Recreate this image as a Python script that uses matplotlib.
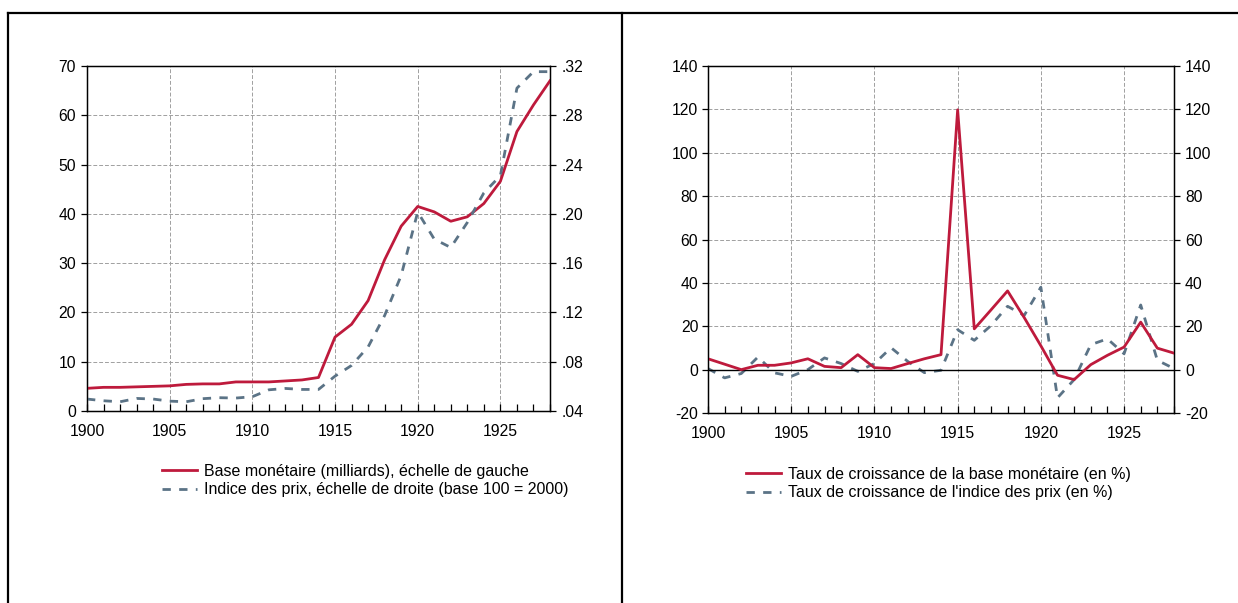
import matplotlib.pyplot as plt
from matplotlib.lines import Line2D
from matplotlib.ticker import FuncFormatter, MultipleLocator

plt.rcParams['font.family'] = ['Liberation Sans', 'DejaVu Sans']
plt.rcParams['font.size'] = 11.3
plt.rcParams['axes.unicode_minus'] = False

years = list(range(1900, 1929))

# base monetaire (milliards), echelle de gauche
base = [4.6, 4.8, 4.8, 4.9, 5.0, 5.1, 5.4, 5.5, 5.5, 5.9, 5.9, 5.9, 6.1, 6.3, 6.8,
        15.0, 17.6, 22.4, 30.7, 37.5, 41.5, 40.4, 38.5, 39.4, 42.1, 46.6, 56.7, 62.1, 67.0]
# indice des prix, echelle de droite
prix = [0.0497, 0.0483, 0.0475, 0.0502, 0.0497, 0.0480, 0.0475, 0.0500, 0.0508, 0.0505,
        0.0516, 0.0572, 0.0583, 0.0575, 0.0575, 0.0683, 0.0770, 0.0920, 0.1175, 0.1500,
        0.2015, 0.1795, 0.1727, 0.1930, 0.2170, 0.2310, 0.3020, 0.3154, 0.3154]

# taux de croissance (en %)
g_base = [5.0, 2.5, 0.0, 2.0, 2.0, 3.1, 5.0, 1.5, 0.9, 6.9, 0.9, 0.5, 2.8, 5.0, 6.9,
          119.8, 18.8, 27.5, 36.3, 24.0, 11.0, -2.6, -4.6, 2.3, 6.6, 10.4, 21.9, 9.9, 7.6]
g_prix = [0.5, -3.8, -1.8, 5.8, -1.5, -3.1, 0.0, 5.4, 2.8, -0.8, 2.8, 10.1, 3.8, -1.4, -0.3,
          18.4, 13.5, 20.3, 29.2, 25.0, 38.0, -13.0, -4.6, 11.5, 14.2, 7.3, 29.8, 4.3, 0.5]

red = '#BE1A3C'
blue = '#5B7386'
grid_col = '#A0A0A0'

fig = plt.figure(figsize=(12.38, 6.03), dpi=100)

# cadre
fig.add_artist(Line2D([8/1238, 1], [1-13/603, 1-13/603], color='black', lw=1.6))
fig.add_artist(Line2D([8/1238, 8/1238], [0, 1-13/603], color='black', lw=1.6))
fig.add_artist(Line2D([622/1238, 622/1238], [0, 1-13/603], color='black', lw=1.6))


def style(ax):
    ax.set_xlim(1900, 1928)
    ax.xaxis.set_major_locator(MultipleLocator(5))
    ax.xaxis.set_minor_locator(MultipleLocator(1))
    ax.tick_params(axis='x', which='both', direction='in', length=5, width=0.9, pad=9)
    ax.tick_params(axis='y', which='both', direction='out', length=4, width=0.9, pad=4)
    ax.grid(True, which='major', color=grid_col, ls=(0, (4, 2)), lw=0.7)
    for s in ax.spines.values():
        s.set_linewidth(1.0)


leg_kw = dict(loc='upper left', frameon=False, handlelength=2.2, handletextpad=0.4,
              labelspacing=0.2, borderpad=0, fontsize=11.5)

# graphique de gauche
ax1 = fig.add_axes([87/1238, 1-411/603, (550-87)/1238, (411-66)/603])
ax1.plot(years, base, color=red, lw=2, label='Base monétaire (milliards), échelle de gauche', zorder=3)
ax1.set_ylim(0, 70)
ax1.yaxis.set_major_locator(MultipleLocator(10))
style(ax1)
ax1b = ax1.twinx()
ax1b.plot(years, prix, color=blue, lw=2, ls=(0, (3, 3)), label='Indice des prix, échelle de droite (base 100 = 2000)')
ax1b.set_ylim(0.04, 0.32)
ax1b.yaxis.set_major_locator(MultipleLocator(0.04))
ax1b.yaxis.set_major_formatter(FuncFormatter(lambda v, p: ('%.2f' % v).lstrip('0')))
ax1b.tick_params(axis='y', direction='out', length=4, width=0.9, pad=4.5)
h = ax1.get_lines() + ax1b.get_lines()
fig.legend(h, [l.get_label() for l in h], bbox_to_anchor=(154/1238, 1-456/603), **leg_kw)

# graphique de droite
ax2 = fig.add_axes([708/1238, 1-413/603, (1174-708)/1238, (413-66)/603])
ax2.plot(years, g_base, color=red, lw=2, label='Taux de croissance de la base monétaire (en %)', zorder=3)
ax2.plot(years, g_prix, color=blue, lw=2, ls=(0, (3, 3)), label="Taux de croissance de l'indice des prix (en %)")
ax2.set_ylim(-20, 140)
ax2.yaxis.set_major_locator(MultipleLocator(20))
style(ax2)
ax2.tick_params(axis='y', pad=3)
ax2.axhline(0, color='black', lw=1.0, zorder=2)
ax2b = ax2.twinx()
ax2b.set_ylim(-20, 140)
ax2b.yaxis.set_major_locator(MultipleLocator(20))
ax2b.tick_params(axis='y', direction='out', length=4, width=0.9, pad=4)
fig.legend(ax2.get_lines()[:2], [l.get_label() for l in ax2.get_lines()[:2]],
           bbox_to_anchor=(738/1238, 1-459/603), **leg_kw)

fig.savefig('out.png', dpi=100, facecolor='white')
